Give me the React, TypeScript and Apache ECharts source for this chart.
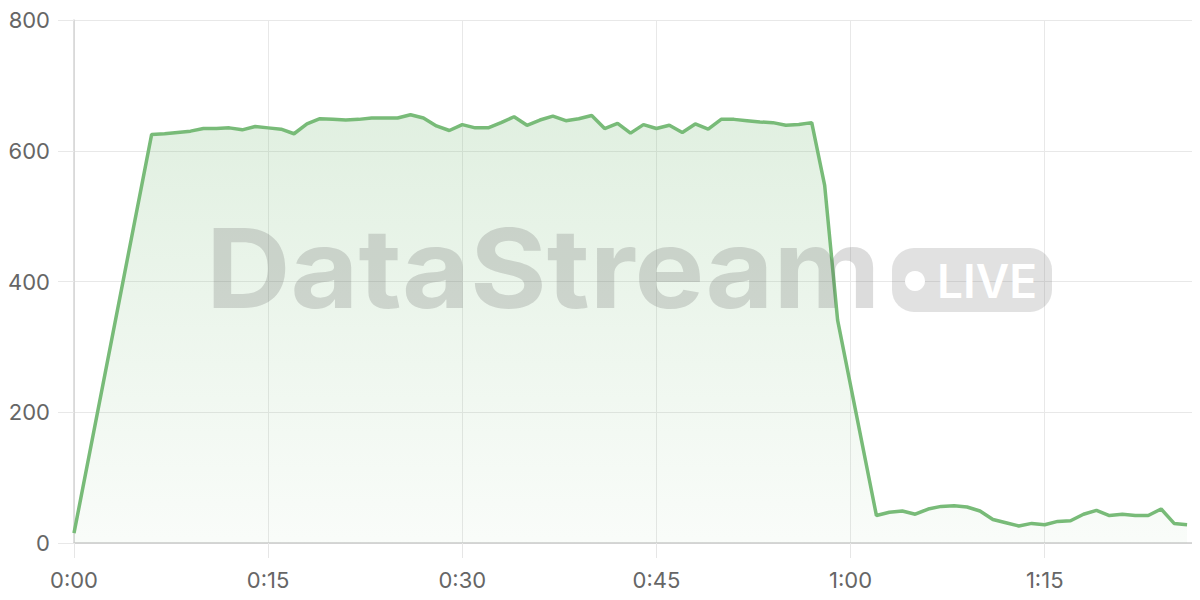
import React, { useEffect, useRef } from 'react';
import * as echarts from 'echarts';

// seconds since start
const seconds: number[] = [
  0, 6, 7, 8, 9, 10, 11, 12, 13, 14, 15, 16, 17, 18, 19, 20, 21, 22, 23, 24, 25,
  26, 27, 28, 29, 30, 31, 32, 33, 34, 35, 36, 37, 38, 39, 40, 41, 42, 43, 44, 45,
  46, 47, 48, 49, 50, 51, 52, 53, 54, 55, 56, 57, 58, 59, 62, 63, 64, 65, 66, 67,
  68, 69, 70, 71, 72, 73, 74, 75, 76, 77, 78, 79, 80, 81, 82, 83, 84, 85, 86,
];

// throughput per second
const values: number[] = [
  15, 625, 626, 628, 630, 634, 634, 635, 632, 637, 635, 633, 626, 641, 649, 648,
  647, 648, 650, 650, 650, 655, 650, 638, 631, 640, 635, 635, 643, 652, 639, 647,
  653, 646, 649, 654, 634, 642, 627, 640, 634, 639, 628, 641, 633, 648, 648, 646,
  644, 643, 639, 640, 643, 547, 341, 42, 47, 49, 44, 52, 56, 57, 55, 49, 36, 31,
  26, 30, 28, 33, 34, 44, 50, 42, 44, 42, 42, 52, 30, 28,
];

const fmtTime = (v: number) => {
  const m = Math.floor(v / 60);
  const s = Math.round(v % 60);
  return `${m}:${s < 10 ? '0' + s : s}`;
};

export default function App() {
  const chartRef = useRef<HTMLDivElement>(null);

  useEffect(() => {
    if (!chartRef.current) return;
    const chart = echarts.init(chartRef.current, null, { renderer: 'svg' });

    const font = 'Inter, "Noto Sans", sans-serif';
    const green = '#78bb78';

    const option: echarts.EChartsOption = {
      animation: false,
      grid: { left: 74, right: 0, top: 20, bottom: 57 },
      xAxis: {
        type: 'value',
        min: 0,
        max: 87,
        interval: 15,
        axisLine: { show: true, lineStyle: { color: '#cccccc', width: 1.5 } },
        axisTick: { show: true, length: 15, lineStyle: { color: '#e6e6e6' } },
        splitLine: { show: true, lineStyle: { color: '#e8e8e8' } },
        axisLabel: {
          formatter: (v: number) => fmtTime(v),
          color: '#666',
          fontSize: 22,
          fontFamily: font,
          margin: 26,
          showMaxLabel: false,
        },
      },
      yAxis: {
        type: 'value',
        min: 0,
        max: 800,
        interval: 200,
        axisLine: { show: true, lineStyle: { color: '#d4d4d4', width: 1.5 } },
        axisTick: { show: true, length: 16, lineStyle: { color: '#e8e8e8' } },
        splitLine: { show: true, lineStyle: { color: '#e8e8e8' } },
        axisLabel: {
          color: '#666',
          fontSize: 22,
          fontFamily: font,
          margin: 24,
        },
      },
      graphic: [
        {
          type: 'text',
          x: 206,
          y: 323,
          scaleX: 1.065,
          z: 10,
          style: {
            text: 'DataStream',
            fontSize: 110,
            fontWeight: 'bold',
            fontFamily: font,
            fill: 'rgba(90,90,90,0.21)',
            verticalAlign: 'bottom',
          },
        },
        {
          type: 'rect',
          shape: { x: 892, y: 248, width: 160, height: 64, r: 22 },
          z: 10,
          style: { fill: 'rgba(120,120,120,0.22)' },
        },
        {
          type: 'circle',
          shape: { cx: 915, cy: 281, r: 10 },
          z: 11,
          style: { fill: '#ffffff' },
        },
        {
          type: 'text',
          x: 937,
          y: 281,
          z: 11,
          style: {
            text: 'LIVE',
            fontSize: 46,
            fontWeight: 600,
            fontFamily: font,
            fill: '#ffffff',
            verticalAlign: 'middle',
          },
        },
      ],
      series: [
        {
          type: 'line',
          data: seconds.map((s, i) => [s, values[i]]),
          showSymbol: false,
          lineStyle: { color: green, width: 3.5 },
          itemStyle: { color: green },
          areaStyle: {
            color: new echarts.graphic.LinearGradient(0, 0, 0, 1, [
              { offset: 0, color: 'rgba(120,187,120,0.32)' },
              { offset: 1, color: 'rgba(120,187,120,0.06)' },
            ]),
          },
          z: 2,
        },
      ],
    };

    chart.setOption(option);
    return () => chart.dispose();
  }, []);

  return <div ref={chartRef} style={{ width: 1200, height: 600, margin: -8 }} />;
}
